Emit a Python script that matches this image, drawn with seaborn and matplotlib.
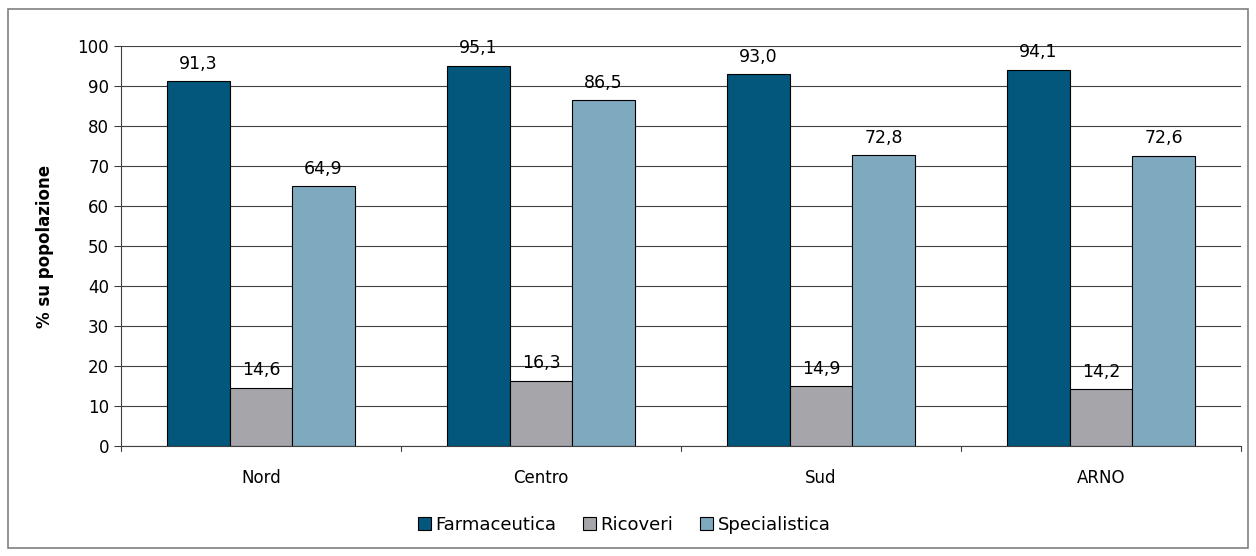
import matplotlib
matplotlib.use("Agg")
import matplotlib.pyplot as plt
import seaborn as sns
import pandas as pd
from matplotlib.patches import Rectangle

regions = ["Nord", "Centro", "Sud", "ARNO"]
series = ["Farmaceutica", "Ricoveri", "Specialistica"]
farmaceutica = [91.3, 95.1, 93.0, 94.1]
ricoveri = [14.6, 16.3, 14.9, 14.2]
specialistica = [64.9, 86.5, 72.8, 72.6]
colors = ["#03577D", "#A6A6AA", "#7FA9BF"]

df = pd.DataFrame({
    "area": regions * 3,
    "tipo": [s for s in series for _ in regions],
    "valore": farmaceutica + ricoveri + specialistica,
})

sns.set_style("white")
plt.rcParams["font.family"] = ["DejaVu Sans"]
plt.rcParams["text.color"] = "black"
plt.rcParams["xtick.color"] = "black"
plt.rcParams["ytick.color"] = "black"
plt.rcParams["axes.labelcolor"] = "black"

fig = plt.figure(figsize=(12.56, 5.56), dpi=100)
ax = fig.add_axes([0.0963, 0.198, 0.8917, 0.719])

sns.barplot(data=df, x="area", y="valore", hue="tipo", palette=colors,
            saturation=1, width=0.67, edgecolor="black", linewidth=0.8,
            ax=ax, legend=True, errorbar=None)

ax.set_ylim(0, 100)
ax.set_xlim(-0.5, len(regions) - 0.5)
ax.set_yticks(range(0, 101, 10))
ax.yaxis.grid(True, color="#404040", linewidth=0.8)
ax.set_axisbelow(True)
ax.set_xlabel("")
ax.set_ylabel("% su popolazione", fontsize=12, fontweight="bold", labelpad=17)
ax.tick_params(axis="y", labelsize=12, left=True, length=5, width=0.8,
               color="#404040", labelcolor="black")
ax.tick_params(axis="x", labelsize=12, bottom=False, pad=13, labelcolor="black")

# group separators as tick marks on the category axis
for b in [i + 0.5 for i in range(-1, len(regions))]:
    ax.plot([b, b], [0, -0.0125], transform=ax.get_xaxis_transform(),
            color="#404040", linewidth=0.8, clip_on=False)

for side in ["top", "right"]:
    ax.spines[side].set_visible(False)
ax.spines["left"].set_color("#404040")
ax.spines["bottom"].set_color("#404040")

for cont in ax.containers:
    labels = [f"{v:.1f}".replace(".", ",") for v in cont.datavalues]
    ax.bar_label(cont, labels=labels, padding=6, fontsize=12.5, color="black")

handles, labs = ax.get_legend_handles_labels()
fig.legend(handles, labs, loc="center", bbox_to_anchor=(0.497, 1 - 525 / 556),
           ncol=3, frameon=False, fontsize=13, handlelength=0.7,
           handleheight=0.7, handletextpad=0.25, columnspacing=1.5)
ax.get_legend().remove()

fig.patches.append(Rectangle((8 / 1256, 8 / 556), 1240 / 1256, 539 / 556,
                             transform=fig.transFigure, fill=False,
                             edgecolor="#808080", linewidth=1.2))

fig.savefig("out.png", dpi=100)
